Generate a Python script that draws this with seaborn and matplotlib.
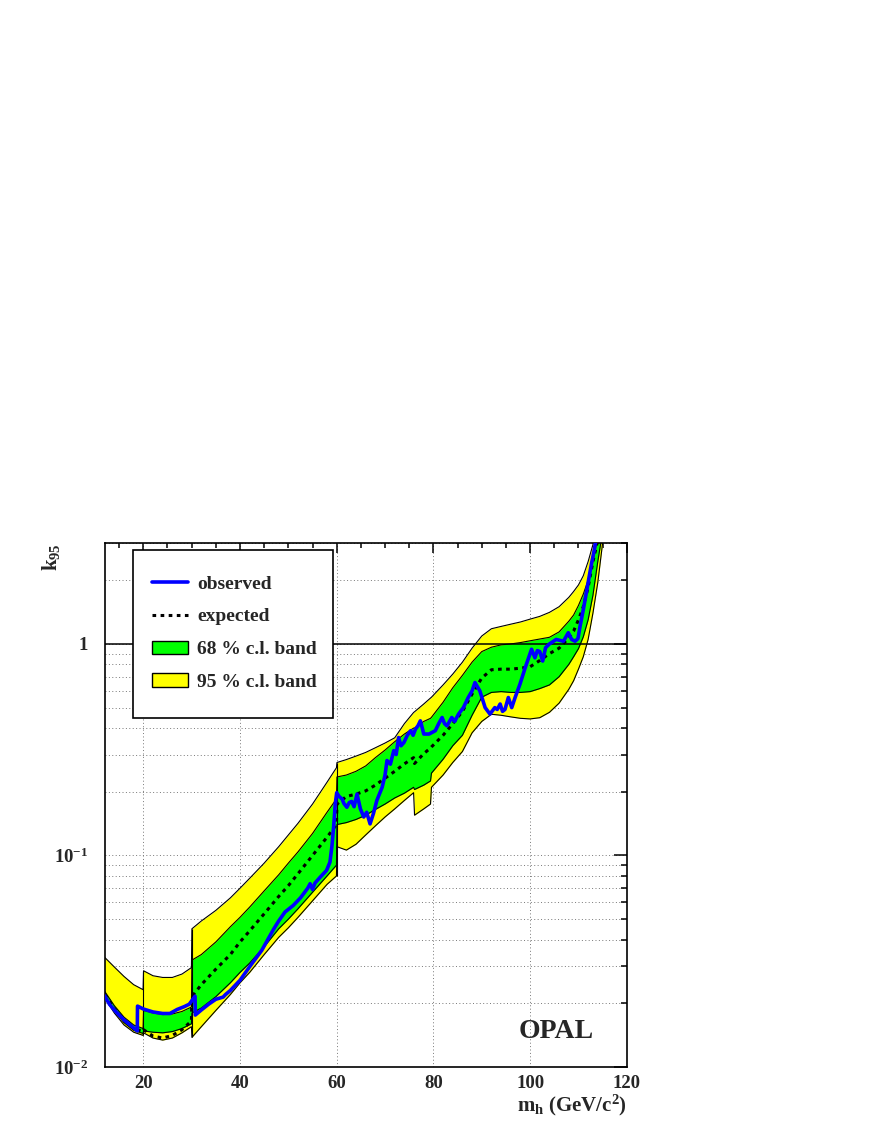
import numpy as np
import matplotlib
matplotlib.use("Agg")
import matplotlib.pyplot as plt
import seaborn as sns
from matplotlib.lines import Line2D
from matplotlib.patches import Patch, Rectangle
from matplotlib.ticker import MultipleLocator, LogLocator, NullFormatter

# ── data (k_95 vs m_h) ────────────────────────────────────────────
band_x = [12, 14, 16, 18, 19.95,
          20.05, 22, 24, 26, 28, 29.95,
          30.05, 32, 35, 38, 40, 42, 45, 48, 50, 52, 55, 58, 59.95,
          60.05, 62, 64, 66, 68, 70, 72, 74, 75.9, 76.1,
          78, 79.4, 79.6, 82, 84, 86, 88, 90, 92, 94,
          96, 98, 100, 102, 104, 106, 108, 109, 110, 111,
          112, 113, 114, 115, 116]

upper95 = [0.033, 0.0297, 0.0268, 0.0245, 0.0232,
           0.0285, 0.027, 0.0265, 0.0265, 0.0275, 0.0295,
           0.045, 0.049, 0.055, 0.063, 0.07, 0.078, 0.092, 0.11, 0.125, 0.142, 0.175, 0.222, 0.26,
           0.275, 0.284, 0.295, 0.307, 0.323, 0.34, 0.36, 0.42, 0.474, 0.478,
           0.52, 0.555, 0.56, 0.64, 0.72, 0.82, 0.955, 1.09, 1.18, 1.21,
           1.24, 1.27, 1.31, 1.35, 1.41, 1.5, 1.66, 1.77, 1.9, 2.1,
           2.45, 2.95, 3.6, 4.5, 6.0]

upper68 = [0.0228, 0.0195, 0.0172, 0.0158, 0.0152,
           0.0185, 0.018, 0.0177, 0.0178, 0.0183, 0.0192,
           0.032, 0.034, 0.039, 0.046, 0.051, 0.057, 0.068, 0.081, 0.092, 0.104, 0.127, 0.16, 0.185,
           0.235, 0.24, 0.25, 0.265, 0.29, 0.315, 0.345, 0.375, 0.40, 0.40,
           0.43, 0.445, 0.45, 0.53, 0.62, 0.71, 0.82, 0.92, 0.965, 0.99,
           1.0, 1.015, 1.035, 1.055, 1.075, 1.14, 1.28, 1.37, 1.52, 1.72,
           2.0, 2.45, 3.2, 4.2, 5.5]

expected = [0.022, 0.0188, 0.0166, 0.0152, 0.0147,
            0.015, 0.014, 0.0137, 0.0141, 0.015, 0.0165,
            0.0215, 0.0245, 0.029, 0.034, 0.039, 0.044, 0.053, 0.064, 0.072, 0.082, 0.1, 0.122, 0.14,
            0.175, 0.19, 0.195, 0.202, 0.215, 0.232, 0.25, 0.271, 0.29, 0.272,
            0.303, 0.322, 0.326, 0.37, 0.42, 0.48, 0.58, 0.69, 0.755, 0.76,
            0.76, 0.768, 0.78, 0.835, 0.9, 0.955, 1.07, 1.15, 1.3, 1.5,
            1.85, 2.45, 3.1, 4.0, 5.0]

lower68 = [0.0216, 0.0184, 0.0162, 0.0149, 0.0144,
           0.0148, 0.0146, 0.0145, 0.0147, 0.0152, 0.016,
           0.018, 0.019, 0.0215, 0.025, 0.028, 0.031, 0.037, 0.045, 0.05, 0.056, 0.067, 0.08, 0.09,
           0.14, 0.143, 0.148, 0.155, 0.165, 0.175, 0.187, 0.197, 0.21, 0.205,
           0.215, 0.225, 0.245, 0.285, 0.33, 0.37, 0.46, 0.56, 0.59, 0.595,
           0.59, 0.59, 0.595, 0.615, 0.64, 0.7, 0.8, 0.87, 0.95, 1.08,
           1.3, 1.7, 2.45, 3.4, 4.8]

lower95 = [0.0212, 0.018, 0.0158, 0.0146, 0.0141,
           0.0145, 0.0137, 0.0134, 0.0137, 0.0145, 0.0155,
           0.0138, 0.0155, 0.0185, 0.022, 0.025, 0.028, 0.034, 0.041, 0.0455, 0.051, 0.061, 0.073, 0.08,
           0.11, 0.106, 0.113, 0.125, 0.138, 0.152, 0.166, 0.182, 0.198, 0.155,
           0.166, 0.175, 0.21, 0.24, 0.275, 0.31, 0.38, 0.43, 0.465, 0.46,
           0.452, 0.445, 0.442, 0.448, 0.475, 0.525, 0.61, 0.67, 0.76, 0.87,
           1.05, 1.4, 1.95, 3.0, 4.5]

obs_x = [12, 13, 14, 15, 16, 17, 18, 18.75, 18.8, 20, 22, 24, 25.5, 27, 28.5, 29.5,
         30.7, 30.75, 32, 33.5, 35, 36.5, 37, 38, 40, 42, 44.5, 46, 47, 48, 49.3,
         51, 52.5, 54, 54.5, 55, 55.5, 56.6, 57.9, 58.6, 59.0, 59.4, 59.7, 60.0,
         60.5, 61.1, 61.5, 62.1, 62.6, 63.1, 63.6, 64.2, 64.9, 65.6, 66.2, 66.9,
         67.6, 68.3, 69.4, 70.0, 70.4, 71.1, 71.8, 72.3, 72.8, 73.3, 73.9, 74.6,
         75.3, 75.8, 76.3, 76.8, 77.3, 77.7, 78.0, 79.1, 80.4, 81.1, 81.8, 82.3,
         82.8, 83.8, 84.4, 85.2, 86.2, 87.2, 88.0, 88.6, 89.6, 90.7, 91.7, 92.7,
         93.2, 93.8, 94.3, 94.8, 95.5, 96.2, 96.9, 97.9, 99.0, 100.3, 101.0,
         101.5, 102.0, 102.6, 103.2, 104.0, 105.4, 106.9, 107.9, 108.6, 109.3,
         109.9, 110.3, 111.0, 112.0, 112.7, 113.3, 113.8]
obs_y = [0.0217, 0.0198, 0.0186, 0.0176, 0.0167, 0.016, 0.0153, 0.0148, 0.0194, 0.0188,
         0.0182, 0.0179, 0.0179, 0.0187, 0.0193, 0.0198,
         0.0216, 0.0176, 0.0186, 0.0198, 0.0209, 0.0214, 0.022, 0.023, 0.0257, 0.0298,
         0.0356, 0.041, 0.045, 0.049, 0.054,
         0.058, 0.063, 0.070, 0.0735, 0.069, 0.074, 0.079, 0.085, 0.093, 0.11, 0.14, 0.175, 0.198,
         0.19, 0.185, 0.176, 0.169, 0.178, 0.18, 0.17, 0.195, 0.166, 0.152, 0.16, 0.141,
         0.158, 0.182, 0.21, 0.24, 0.281, 0.27, 0.313, 0.30, 0.361, 0.33, 0.342, 0.37,
         0.389, 0.37, 0.396, 0.41, 0.433, 0.40, 0.375, 0.375, 0.389, 0.42, 0.449, 0.42,
         0.41, 0.449, 0.43, 0.466, 0.5, 0.558, 0.6, 0.657, 0.6, 0.5, 0.466, 0.5,
         0.49, 0.52, 0.48, 0.49, 0.558, 0.5, 0.558, 0.645, 0.773, 0.944, 0.86,
         0.93, 0.92, 0.83, 0.96, 1.0, 1.05, 1.03, 1.13, 1.05, 1.03,
         1.06, 1.2, 1.45, 1.95, 2.4, 2.8, 3.3]

channel_edges = [20, 30, 60]
legend_labels = ["observed", "expected", "68 % c.l. band", "95 % c.l. band"]
ytick_vals = [0.01, 0.1, 1]
ytick_labels = [r"$10^{-2}$", r"$10^{-1}$", "1"]

# ── style ────────────────────────────────────────────
sns.set_theme(style="white")
plt.rcParams.update({
    "font.family": ["Liberation Serif", "DejaVu Serif"],
    "font.weight": "bold",
    "axes.labelweight": "bold",
    "mathtext.fontset": "custom",
    "mathtext.rm": "Liberation Serif:bold",
    "mathtext.it": "Liberation Serif:bold",
    "mathtext.bf": "Liberation Serif:bold",
    "axes.edgecolor": "black",
    "axes.linewidth": 1.2,
})

fig = plt.figure(figsize=(8.72, 11.28), dpi=100)
ax = fig.add_axes([0.12, 0.0541, 0.5988, 0.4645])
ax.set_yscale("log")
ax.set_xlim(12, 120)
ax.set_ylim(0.01, 3)

# grid
ax.set_axisbelow(True)
ax.xaxis.grid(True, which="major", color="#777777", lw=0.7, ls=(0, (1, 2.5)))
ax.yaxis.grid(True, which="both", color="#777777", lw=0.7, ls=(0, (1, 2.5)))

# bands
ax.fill_between(band_x, lower95, upper95, color="#ffff00", lw=0, zorder=1)
ax.fill_between(band_x, lower68, upper68, color="#00ff00", lw=0, zorder=1.1)
for edge in [upper95, upper68, lower68, lower95]:
    ax.plot(band_x, edge, color="black", lw=0.8, zorder=1.2)
bx = np.array(band_x)
for e in channel_edges:
    i = np.searchsorted(bx, e)
    lo = min(lower95[i - 1], lower95[i])
    hi = max(upper95[i - 1], upper95[i])
    ax.vlines(e, lo, hi, color="black", lw=0.8, zorder=1.2)

ax.axhline(1, color="black", lw=1.1, zorder=1.5)

# curves
sns.lineplot(x=band_x, y=expected, estimator=None, sort=False, ax=ax,
             color="black", lw=2.2, linestyle=(0, (1.2, 1.45)), zorder=2)
sns.lineplot(x=obs_x, y=obs_y, estimator=None, sort=False, ax=ax,
             color="#0000ff", lw=2.6, zorder=3)

# ticks
ax.xaxis.set_major_locator(MultipleLocator(20))
ax.xaxis.set_minor_locator(MultipleLocator(5))
ax.set_yticks(ytick_vals)
ax.set_yticklabels(ytick_labels)
ax.yaxis.set_minor_locator(LogLocator(base=10, subs=np.arange(2, 10)))
ax.yaxis.set_minor_formatter(NullFormatter())
ax.tick_params(which="both", direction="in", top=True, right=True, color="black", width=1.1)
ax.tick_params(axis="x", which="major", length=7, labelsize=13.5, pad=6)
ax.tick_params(axis="x", which="minor", length=3.6)
ax.tick_params(axis="y", which="major", length=9.5, labelsize=13.5, pad=12)
ax.tick_params(axis="y", which="minor", length=4.5)
for lab in ax.get_xticklabels() + ax.get_yticklabels():
    lab.set_fontweight("bold")
for sp in ax.spines.values():
    sp.set_color("black")
    sp.set_linewidth(1.2)

ax.set_xlabel(r"$m_h$ (GeV/c$^2$)", fontsize=15, fontweight="bold", loc="right")
ax.xaxis.set_label_coords(1.0, -0.05)
ax.set_ylabel(r"$k_{95}$", fontsize=15, fontweight="bold", loc="top")
ax.yaxis.set_label_coords(-0.082, 1.0)

ax.text(0.864, 0.067, "OPAL", transform=ax.transAxes, ha="center", va="center",
        fontsize=20, fontweight="bold")

# legend: white box drawn separately, entries placed inside it
ax.add_patch(Rectangle((0.054, 0.666), 0.383, 0.321, transform=ax.transAxes,
                       facecolor="white", edgecolor="black", lw=1.2, zorder=9))
handles = [
    Line2D([], [], color="#0000ff", lw=2.6),
    Line2D([], [], color="black", lw=2.2, linestyle=(0, (1.2, 1.45))),
    Patch(facecolor="#00ff00", edgecolor="black", lw=1),
    Patch(facecolor="#ffff00", edgecolor="black", lw=1),
]
leg = ax.legend(handles, legend_labels, loc="upper left",
                bbox_to_anchor=(0.090, 0.939), borderaxespad=0, borderpad=0,
                fontsize=14, handlelength=1.85, handletextpad=0.5,
                labelspacing=0.78, frameon=False,
                prop={"weight": "bold", "size": 14})
leg.set_zorder(10)

fig.savefig("out.png", dpi=100, facecolor="white")
